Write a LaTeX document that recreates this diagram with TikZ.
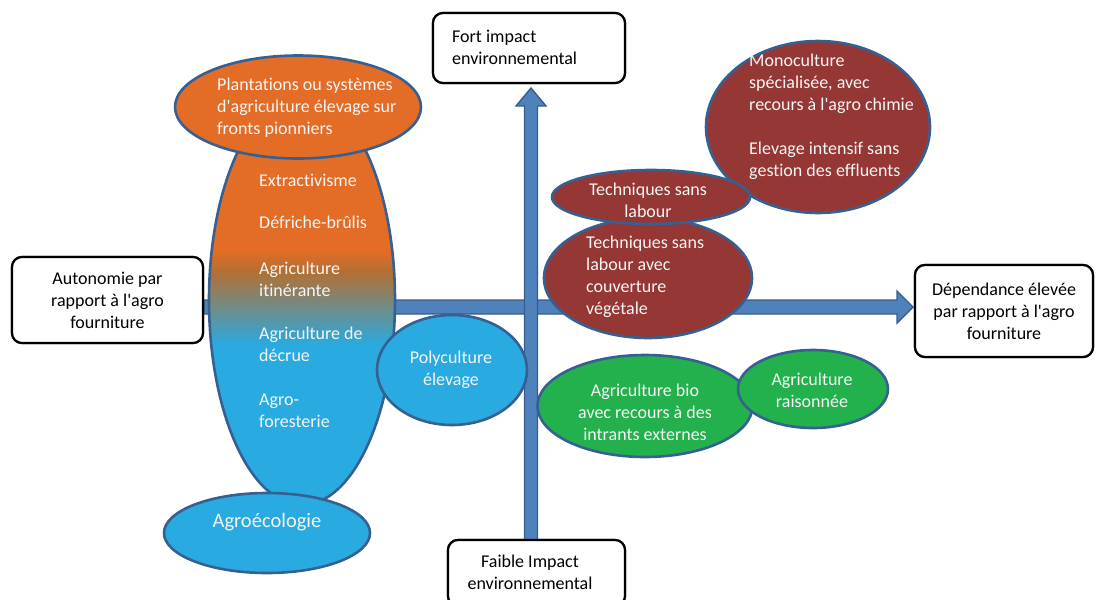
\documentclass[tikz,border=0pt]{standalone}
\usepackage{fontspec}
\setmainfont{Carlito}[Ligatures={NoCommon}]
\usetikzlibrary{shapes.geometric,calc}
\definecolor{orangeF}{RGB}{227,108,38}
\definecolor{redF}{RGB}{149,55,53}
\definecolor{greenF}{RGB}{35,177,77}
\definecolor{blueF}{RGB}{41,170,225}
\definecolor{bordC}{RGB}{55,96,146}
\definecolor{arrF}{RGB}{79,129,189}
\definecolor{arrB}{RGB}{56,93,138}
\definecolor{txtW}{RGB}{245,245,245}
\definecolor{midC}{RGB}{178,112,52}
\newcommand\myfs{\fontsize{18}{22}\selectfont}
\newcommand\ap{\textquotesingle}
\begin{document}
\begin{tikzpicture}[x=1pt,y=-1pt,
  ell/.style={ellipse, draw=bordC, line width=2.6pt, inner sep=0pt},
  framebox/.style={draw=black, line width=2.2pt, rounded corners=10pt, fill=white, inner sep=0pt},
  wtxt/.style={text=txtW, font=\myfs, inner sep=0pt},
  btxt/.style={text=black, font=\myfs, inner sep=0pt},
  arrowst/.style={fill=arrF, draw=arrB, line width=1.4pt, line join=miter}
]
\clip (0,0) rectangle (1096,600);
% boxes (shapes only first for positions)
\node[framebox, minimum width=191pt, minimum height=86pt] (auto) at (107.5,300) {};
\node[framebox, minimum width=178pt, minimum height=92pt] (dep) at (1004,311) {};
\node[framebox, minimum width=192pt, minimum height=70pt] (fort) at (529,48) {};
\node[framebox, minimum width=177pt, minimum height=66pt] (faible) at (536.5,573) {};
% arrows
\coordinate (hA) at (auto.east |- 0,307);
\coordinate (hB) at (913,307);
\draw[arrowst] ($(hA)+(0,-7)$) -- ($(hB)+(-16,-7)$) -- ($(hB)+(-16,-16)$) -- (hB)
  -- ($(hB)+(-16,16)$) -- ($(hB)+(-16,7)$) -- ($(hA)+(0,7)$) -- cycle;
\coordinate (vA) at (531,540);
\coordinate (vB) at (531,88);
\draw[arrowst] ($(vA)+(-6.5,0)$) -- ($(vB)+(-6.5,18)$) -- ($(vB)+(-15,18)$) -- (vB)
  -- ($(vB)+(15,18)$) -- ($(vB)+(6.5,18)$) -- ($(vA)+(6.5,0)$) -- cycle;
% redraw boxes over arrow ends
\node[framebox, minimum width=191pt, minimum height=86pt, align=center, btxt] (autoT) at (107.5,300) {Autonomie par\\rapport à l\ap agro\\fourniture};
\node[framebox, minimum width=178pt, minimum height=92pt, align=center, btxt] (depT) at (1004,311) {Dépendance élevée\\par rapport à l\ap agro\\fourniture};
\node[framebox, minimum width=192pt, minimum height=70pt] (fortB) at (529,48) {};
\node[btxt, align=left, anchor=west] (fortT) at (452,47.5) {Fort impact\\environnemental};
\node[framebox, minimum width=177pt, minimum height=66pt] (faibleB) at (536.5,573) {};
\node[btxt, align=center] (faibleT) at (530,572.5) {Faible Impact\\environnemental};
% gradient ellipse
\coordinate (gc) at (302,300);
\begin{scope}
  \clip (gc) ellipse [x radius=93pt, y radius=205pt];
  \fill[orangeF] (200,90) rectangle (400,250);
  \shade[top color=orangeF, bottom color=midC] (200,250) rectangle (400,272);
  \shade[top color=midC, bottom color=blueF] (200,272) rectangle (400,345);
  \fill[blueF] (200,345) rectangle (400,510);
\end{scope}
\node[ell, minimum width=186pt, minimum height=410pt] (grad) at (gc) {};
\node[wtxt, anchor=west] (t1) at (259,180) {Extractivisme};
\node[wtxt, anchor=west] (t2) at (259,222) {Défriche-brûlis};
\node[wtxt, anchor=west, align=left] (t3) at (259,279) {Agriculture\\itinérante};
\node[wtxt, anchor=west, align=left] (t4) at (259,344.5) {Agriculture de\\décrue};
\node[wtxt, anchor=west, align=left] (t5) at (259,411) {Agro-\\foresterie};
% plantations
\node[ell, fill=orangeF, minimum width=246pt, minimum height=103pt] (plant) at (298,107) {};
\node[wtxt, anchor=west, align=left] (plantT) at (217,107.5) {Plantations ou systèmes\\d\ap agriculture élevage sur\\fronts pionniers};
% agroecologie
\node[ell, fill=blueF, minimum width=206pt, minimum height=80pt] (agro) at (267,533) {};
\node[wtxt] (agroT) at (267,522) {\fontsize{20.5}{22}\selectfont Agroécologie};
% polyculture
\node[ell, fill=blueF, minimum width=150pt, minimum height=110pt] (poly) at (452,370) {};
\node[wtxt, align=center] (polyT) at (451,370) {Polyculture\\élevage};
% monoculture
\node[ell, fill=redF, minimum width=224pt, minimum height=172pt] (mono) at (818,127) {};
\node[wtxt, anchor=west, align=left] (monoT) at (749,117) {Monoculture\\spécialisée, avec\\recours à l\ap agro chimie\\[22pt]Elevage intensif sans\\gestion des effluents};
% techniques
\node[ell, fill=redF, minimum width=208pt, minimum height=120pt] (techL) at (648,278) {};
\node[wtxt, anchor=west, align=left] (techLT) at (586,276.5) {Techniques sans\\labour avec\\couverture\\végétale};
\node[ell, fill=redF, minimum width=198pt, minimum height=54pt] (techU) at (651,197) {};
\node[wtxt, align=center] (techUT) at (648,200) {Techniques sans\\labour};
% bio
\node[ell, fill=greenF, minimum width=215pt, minimum height=102pt] (bio) at (645,406) {};
\node[wtxt, align=center] (bioT) at (645,412) {Agriculture bio\\avec recours à des\\intrants externes};
\node[ell, fill=greenF, minimum width=150pt, minimum height=78pt] (rais) at (813,389) {};
\node[wtxt, align=center] (raisT) at (812,390) {Agriculture\\raisonnée};
\end{tikzpicture}
\end{document}
